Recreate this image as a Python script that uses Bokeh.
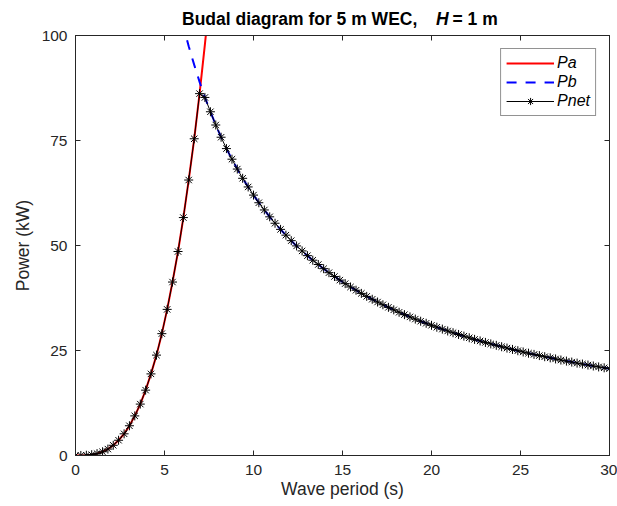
from bokeh.plotting import figure
from bokeh.models import Range1d, LinearAxis, Title, Legend, LegendItem, FixedTicker
from bokeh.embed import file_html
from bokeh.resources import INLINE

# ---- data ----
period = [0.00, 0.30, 0.61, 0.91, 1.21, 1.52, 1.82, 2.12, 2.42, 2.73,
          3.03, 3.33, 3.64, 3.94, 4.24, 4.55, 4.85, 5.15, 5.45, 5.76,
          6.06, 6.36, 6.67, 6.97, 7.27, 7.58, 7.88, 8.18, 8.48, 8.79,
          9.09, 9.39, 9.70, 10.00, 10.30, 10.61, 10.91, 11.21, 11.52, 11.82,
          12.12, 12.42, 12.73, 13.03, 13.33, 13.64, 13.94, 14.24, 14.55, 14.85,
          15.15, 15.45, 15.76, 16.06, 16.36, 16.67, 16.97, 17.27, 17.58, 17.88,
          18.18, 18.48, 18.79, 19.09, 19.39, 19.70, 20.00, 20.30, 20.61, 20.91,
          21.21, 21.52, 21.82, 22.12, 22.42, 22.73, 23.03, 23.33, 23.64, 23.94,
          24.24, 24.55, 24.85, 25.15, 25.45, 25.76, 26.06, 26.36, 26.67, 26.97,
          27.27, 27.58, 27.88, 28.18, 28.48, 28.79, 29.09, 29.39, 29.70, 30.00]

# Pa (kW) at period[0:27]
pa_kw = [0.00, 0.01, 0.06, 0.19, 0.45, 0.89, 1.53, 2.43, 3.63, 5.16,
         7.08, 9.43, 12.24, 15.56, 19.43, 23.90, 29.01, 34.79, 41.30, 48.57,
         56.65, 65.59, 75.41, 86.16, 97.90, 110.65, 124.47]

# Pb (kW) at period[19:100]
pb_kw = [107.68, 102.30, 97.43, 93.00, 88.96, 85.25, 81.84, 78.69, 75.78, 73.07,
         70.55, 68.20, 66.00, 63.94, 62.00, 60.18, 58.46, 56.83, 55.30, 53.84,
         52.46, 51.15, 49.90, 48.71, 47.58, 46.50, 45.47, 44.48, 43.53, 42.63,
         41.76, 40.92, 40.12, 39.35, 38.60, 37.89, 37.20, 36.54, 35.89, 35.28,
         34.68, 34.10, 33.54, 33.00, 32.48, 31.97, 31.48, 31.00, 30.54, 30.09,
         29.65, 29.23, 28.82, 28.42, 28.03, 27.65, 27.28, 26.92, 26.57, 26.23,
         25.90, 25.58, 25.26, 24.95, 24.65, 24.36, 24.07, 23.79, 23.52, 23.25,
         22.99, 22.73, 22.48, 22.24, 22.00, 21.77, 21.54, 21.31, 21.09, 20.88,
         20.67]

# Pnet = min(Pa, Pb): Pa up to period index 23, Pb afterwards
pnet_kw = pa_kw[:24] + pb_kw[5:]

x_ticks = [0, 5, 10, 15, 20, 25, 30]
y_ticks = [0, 25, 50, 75, 100]
title_parts = ["Budal diagram for 5 m WEC,", "H", "= 1 m"]

FONT = "Liberation Sans"
AX = "#262626"

p = figure(width=617, height=506, output_backend="svg", toolbar_location=None,
           x_range=Range1d(0, 30), y_range=Range1d(0, 100),
           min_border_left=75, min_border_right=8, min_border_top=35,
           min_border_bottom=51)
p.background_fill_color = "white"
p.border_fill_color = "white"
p.outline_line_color = AX
p.outline_line_width = 1
p.grid.visible = False

p.xaxis.ticker = FixedTicker(ticks=x_ticks)
p.yaxis.ticker = FixedTicker(ticks=y_ticks)
p.xaxis.axis_label = "Wave period (s)"
p.yaxis.axis_label = "Power (kW)"
for ax in (p.xaxis[0], p.yaxis[0]):
    ax.major_tick_in = 5
    ax.major_tick_out = 0
    ax.minor_tick_line_color = None
    ax.axis_line_color = AX
    ax.major_tick_line_color = AX
    ax.major_label_text_font = FONT
    ax.major_label_text_font_size = "15.5px"
    ax.major_label_text_color = AX
    ax.axis_label_text_font = FONT
    ax.axis_label_text_font_size = "17.5px"
    ax.axis_label_text_font_style = "normal"
    ax.axis_label_text_color = AX
p.xaxis.major_label_standoff = 9
p.xaxis.axis_label_standoff = 1
p.yaxis.major_label_standoff = 8
p.yaxis.axis_label_standoff = 6

top = LinearAxis(ticker=FixedTicker(ticks=x_ticks), major_label_text_font_size="0px",
                 major_tick_in=5, major_tick_out=0, minor_tick_line_color=None,
                 axis_line_color=AX, major_tick_line_color=AX, major_label_standoff=0)
right = LinearAxis(ticker=FixedTicker(ticks=y_ticks), major_label_text_font_size="0px",
                   major_tick_in=5, major_tick_out=0, minor_tick_line_color=None,
                   axis_line_color=AX, major_tick_line_color=AX, major_label_standoff=0)
p.add_layout(top, "above")
p.add_layout(right, "right")

r_pa = p.line(period[:27], pa_kw, line_color="#ff0000", line_width=2)
r_pb = p.line(period[19:], pb_kw, line_color="#0000ff", line_width=2, line_dash="10 9")
r_net = p.line(period, pnet_kw, line_color="black", line_width=1)
r_net_m = p.scatter(period, pnet_kw, marker="asterisk", size=9,
                    line_color="black", line_width=1)

legend = Legend(items=[LegendItem(label="Pa", renderers=[r_pa]),
                       LegendItem(label="Pb", renderers=[r_pb]),
                       LegendItem(label="Pnet", renderers=[r_net, r_net_m])],
                location="top_right", margin=13, padding=5, spacing=1,
                glyph_width=48, glyph_height=18, label_height=18, label_standoff=3,
                label_text_font=FONT, label_text_font_style="italic",
                label_text_font_size="16px", label_text_color="black",
                border_line_color=AX, border_line_width=1,
                background_fill_color="white", background_fill_alpha=1)
p.add_layout(legend)

# blank spacer panel, then the title in three pieces (italic H) whose
# panels have zero height so that all three share one row
p.add_layout(Title(text=" ", standoff=-4, text_font=FONT, text_font_size="17.5px",
                   text_font_style="bold", text_color="white"), "above")
offsets = [106.5, 360.5, 377]
styles = ["bold", "bold italic", "bold"]
for txt, off, sty in zip(title_parts, offsets, styles):
    p.add_layout(Title(text=txt, align="left", offset=off, vertical_align="bottom",
                       standoff=-22, text_font=FONT, text_font_size="17.5px",
                       text_font_style=sty, text_color="black"), "above")

open("out.html", "w").write(file_html(p, INLINE))
